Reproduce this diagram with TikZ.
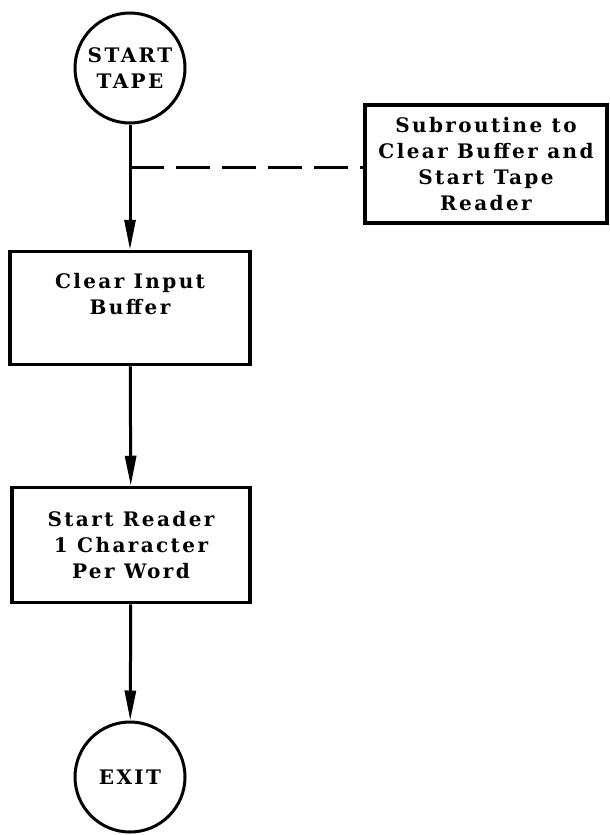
\documentclass[tikz,border=0pt]{standalone}
\usepackage{fontspec}
\newfontfamily\chartfont{DejaVu Serif}[LetterSpace=12]
\usetikzlibrary{arrows.meta}

\begin{document}
\begin{tikzpicture}[x=1pt, y=-1pt,
  font=\chartfont\bfseries\fontsize{20}{26}\selectfont,
  term/.style={draw, circle, line width=3pt, minimum size=110pt, inner sep=0pt, align=center},
  proc/.style={draw, rectangle, line width=3.5pt, inner sep=0pt, align=center},
  flow/.style={line width=3pt, -{Triangle[length=30pt, width=11pt]}}]

\useasboundingbox (0,0) rectangle (610,835);

\node[term] (start) at (130,68) {START\\TAPE};
\node[proc, minimum width=242pt, minimum height=118pt] (sub) at (486,164)
  {Subroutine to\\Clear Buffer and\\Start Tape\\Reader};
\node[proc, minimum width=240pt, minimum height=113pt] (clear) at (130,308)
  {Clear Input\\Buffer\\[2pt]};
\node[proc, minimum width=238pt, minimum height=115pt] (reader) at (131,545)
  {Start Reader\\1 Character\\Per Word};
\node[term] (exit) at (130,777) {EXIT};

% main line
\draw[flow] (start) -- (clear);
\draw[flow] (clear) -- (reader);
\draw[flow] (reader) -- (exit);

% link to subroutine
\coordinate (tap) at (130,167);
\draw[line width=3pt, dash pattern=on 34pt off 12pt] (tap) -- (tap -| sub.west);

\end{tikzpicture}
\end{document}
